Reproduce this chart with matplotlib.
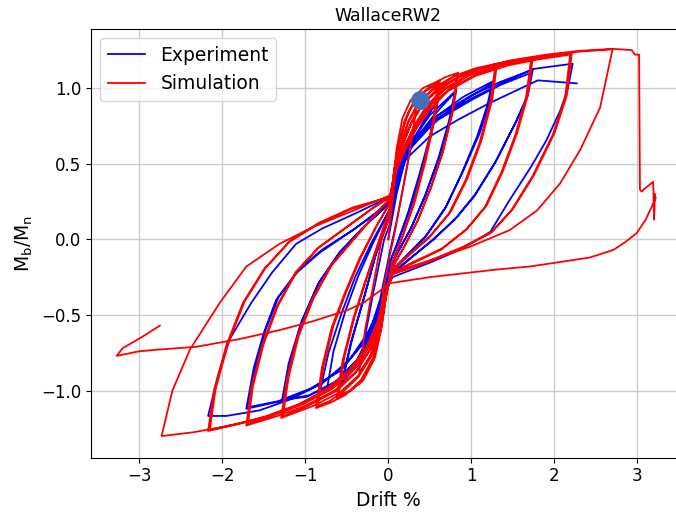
import matplotlib
matplotlib.use("Agg")
import matplotlib.pyplot as plt

# --- experiment (blue) loops, (drift %, Mb/Mn) ---
exp_cyc_03 = [(0.0, 0.0), (0.1, 0.3), (0.2, 0.52), (0.3, 0.7), (0.2, 0.4), (0.1, 0.12), (0.02, -0.08),
              (-0.1, -0.4), (-0.2, -0.57), (-0.3, -0.7), (-0.18, -0.35), (-0.05, 0.0), (0.02, 0.1)]
exp_cyc_06 = [(0.1, 0.35), (0.25, 0.6), (0.45, 0.8), (0.6, 0.92), (0.52, 0.7), (0.4, 0.45), (0.25, 0.18),
              (0.1, -0.04), (0.02, -0.15), (-0.06, -0.4), (-0.18, -0.65), (-0.35, -0.82), (-0.55, -0.92),
              (-0.45, -0.68), (-0.3, -0.4), (-0.15, -0.1), (0.02, 0.16),
              (0.12, 0.42), (0.3, 0.66), (0.45, 0.8), (0.58, 0.9), (0.5, 0.68), (0.38, 0.44), (0.24, 0.18),
              (0.1, -0.04), (0.02, -0.15), (-0.06, -0.42), (-0.2, -0.66), (-0.36, -0.82), (-0.54, -0.91),
              (-0.44, -0.67), (-0.3, -0.4), (-0.15, -0.1), (0.02, 0.16)]
exp_cyc_08 = [(0.1, 0.4), (0.25, 0.62), (0.5, 0.82), (0.82, 0.985), (0.75, 0.8), (0.62, 0.55), (0.45, 0.3),
              (0.28, 0.08), (0.12, -0.08), (0.03, -0.17), (-0.05, -0.35), (-0.15, -0.58), (-0.32, -0.8),
              (-0.55, -0.93), (-0.82, -1.0), (-0.72, -0.75), (-0.57, -0.5), (-0.4, -0.25), (-0.2, -0.02),
              (0.02, 0.2),
              (0.12, 0.45), (0.3, 0.64), (0.55, 0.82), (0.8, 0.97), (0.73, 0.78), (0.6, 0.53), (0.44, 0.28),
              (0.27, 0.07), (0.12, -0.08), (0.03, -0.18), (-0.06, -0.36), (-0.18, -0.6), (-0.35, -0.82),
              (-0.55, -0.94), (-0.74, -0.995), (-0.66, -0.74), (-0.52, -0.48), (-0.36, -0.24), (-0.18, -0.02),
              (0.02, 0.2)]
exp_cyc_13 = [(0.1, 0.45), (0.25, 0.6), (0.55, 0.8), (0.9, 0.94), (1.28, 1.05), (1.22, 0.9), (1.1, 0.7),
              (0.9, 0.45), (0.7, 0.22), (0.45, 0.02), (0.2, -0.12), (0.05, -0.2), (-0.04, -0.35),
              (-0.15, -0.55), (-0.35, -0.78), (-0.6, -0.93), (-0.95, -1.03), (-1.28, -1.065), (-1.2, -0.82),
              (-1.05, -0.55), (-0.85, -0.3), (-0.6, -0.1), (-0.3, 0.08), (0.02, 0.24),
              (0.12, 0.48), (0.3, 0.62), (0.6, 0.8), (0.95, 0.93), (1.25, 1.03), (1.19, 0.88), (1.07, 0.68),
              (0.88, 0.43), (0.68, 0.2), (0.44, 0.01), (0.2, -0.12), (0.05, -0.21), (-0.04, -0.36),
              (-0.16, -0.56), (-0.38, -0.8), (-0.65, -0.95), (-0.98, -1.04), (-1.26, -1.06), (-1.18, -0.8),
              (-1.03, -0.53), (-0.83, -0.28), (-0.58, -0.08), (-0.28, 0.09), (0.02, 0.24)]
exp_cyc_17 = [(0.12, 0.5), (0.3, 0.66), (0.6, 0.82), (1.0, 0.95), (1.35, 1.04), (1.74, 1.12), (1.68, 0.95),
              (1.56, 0.8), (1.3, 0.52), (1.05, 0.3), (0.83, 0.15), (0.55, 0.0), (0.25, -0.13), (0.05, -0.22),
              (-0.03, -0.35), (-0.12, -0.5), (-0.3, -0.68), (-0.55, -0.85), (-0.9, -0.98), (-1.3, -1.07),
              (-1.71, -1.12), (-1.62, -0.85), (-1.5, -0.62), (-1.35, -0.4), (-1.1, -0.22), (-0.83, -0.09),
              (-0.43, 0.06), (-0.15, 0.17), (0.02, 0.26),
              (0.12, 0.5), (0.3, 0.64), (0.6, 0.79), (1.0, 0.92), (1.35, 1.02), (1.72, 1.1), (1.66, 0.93),
              (1.54, 0.78), (1.28, 0.5), (1.03, 0.28), (0.8, 0.13), (0.52, -0.01), (0.24, -0.14), (0.05, -0.23),
              (-0.03, -0.36), (-0.13, -0.52), (-0.32, -0.7), (-0.58, -0.87), (-0.95, -0.99), (-1.33, -1.07),
              (-1.69, -1.11), (-1.6, -0.84), (-1.48, -0.6), (-1.32, -0.38), (-1.08, -0.2), (-0.8, -0.07),
              (-0.4, 0.07), (-0.14, 0.18), (0.02, 0.26)]
exp_cyc_22 = [(0.12, 0.5), (0.3, 0.65), (0.6, 0.8), (1.0, 0.93), (1.4, 1.04), (1.74, 1.125), (2.22, 1.16),
              (2.16, 0.99), (2.07, 0.85), (1.9, 0.65), (1.72, 0.48), (1.45, 0.25), (1.23, 0.05), (0.9, -0.06),
              (0.52, -0.15), (0.05, -0.25), (-0.02, -0.33), (-0.1, -0.45), (-0.25, -0.62), (-0.46, -0.79),
              (-0.79, -0.95), (-1.19, -1.06), (-1.55, -1.13), (-1.95, -1.167), (-2.17, -1.167), (-2.05, -0.9),
              (-1.91, -0.66), (-1.65, -0.42), (-1.4, -0.22), (-1.11, -0.03), (-0.8, 0.07), (-0.4, 0.17),
              (0.02, 0.28)]
exp_final = [(0.1, 0.45), (0.25, 0.55), (0.5, 0.68), (0.84, 0.79), (1.22, 0.9), (1.8, 1.05), (2.27, 1.03)]

# --- simulation (red) loops ---
sim_cyc_03 = [(0.0, 0.0), (0.05, 0.25), (0.1, 0.5), (0.17, 0.72), (0.25, 0.85), (0.35, 0.92), (0.28, 0.65),
              (0.18, 0.35), (0.08, 0.05), (0.02, -0.1), (-0.05, -0.3), (-0.12, -0.58), (-0.22, -0.78),
              (-0.35, -0.88), (-0.28, -0.6), (-0.18, -0.3), (-0.08, 0.0), (0.02, 0.15)]
sim_cyc_06 = [(0.05, 0.35), (0.1, 0.6), (0.17, 0.8), (0.27, 0.92), (0.42, 1.0), (0.62, 1.05), (0.56, 0.8),
              (0.45, 0.52), (0.32, 0.25), (0.18, 0.03), (0.05, -0.15), (-0.02, -0.35), (-0.08, -0.58),
              (-0.16, -0.78), (-0.3, -0.93), (-0.45, -1.0), (-0.62, -1.05), (-0.55, -0.8), (-0.42, -0.52),
              (-0.28, -0.28), (-0.12, -0.02), (0.02, 0.2),
              (0.06, 0.4), (0.12, 0.6), (0.2, 0.78), (0.3, 0.9), (0.45, 0.98), (0.6, 1.03), (0.54, 0.78),
              (0.43, 0.5), (0.3, 0.23), (0.17, 0.02), (0.05, -0.16), (-0.02, -0.36), (-0.09, -0.6),
              (-0.18, -0.8), (-0.32, -0.94), (-0.46, -1.0), (-0.6, -1.03), (-0.53, -0.78), (-0.4, -0.5),
              (-0.26, -0.26), (-0.1, 0.0), (0.02, 0.21)]
sim_cyc_08 = [(0.06, 0.42), (0.12, 0.62), (0.2, 0.79), (0.32, 0.92), (0.5, 1.01), (0.68, 1.07), (0.84, 1.1),
              (0.78, 0.85), (0.66, 0.58), (0.52, 0.35), (0.36, 0.13), (0.2, -0.04), (0.05, -0.18),
              (-0.02, -0.35), (-0.09, -0.58), (-0.18, -0.78), (-0.33, -0.93), (-0.52, -1.03), (-0.7, -1.08),
              (-0.87, -1.115), (-0.8, -0.85), (-0.68, -0.58), (-0.52, -0.35), (-0.35, -0.13), (-0.15, 0.08),
              (0.02, 0.24),
              (0.07, 0.42), (0.14, 0.6), (0.24, 0.77), (0.36, 0.89), (0.52, 0.98), (0.68, 1.04), (0.83, 1.09),
              (0.77, 0.84), (0.65, 0.57), (0.51, 0.34), (0.35, 0.12), (0.19, -0.05), (0.05, -0.19),
              (-0.02, -0.36), (-0.1, -0.58), (-0.2, -0.77), (-0.36, -0.91), (-0.55, -1.01), (-0.71, -1.07),
              (-0.85, -1.1), (-0.78, -0.84), (-0.66, -0.57), (-0.5, -0.34), (-0.33, -0.12), (-0.14, 0.09),
              (0.02, 0.24)]
sim_cyc_13 = [(0.07, 0.44), (0.14, 0.62), (0.24, 0.78), (0.36, 0.9), (0.55, 1.0), (0.8, 1.08), (1.05, 1.13),
              (1.31, 1.16), (1.25, 0.92), (1.12, 0.65), (0.95, 0.4), (0.75, 0.18), (0.5, 0.02), (0.25, -0.1),
              (0.05, -0.2), (-0.03, -0.35), (-0.1, -0.56), (-0.2, -0.75), (-0.36, -0.9), (-0.58, -1.01),
              (-0.9, -1.1), (-1.29, -1.18), (-1.22, -0.92), (-1.1, -0.65), (-0.92, -0.4), (-0.7, -0.18),
              (-0.45, -0.02), (-0.2, 0.14), (0.02, 0.27),
              (0.08, 0.44), (0.16, 0.6), (0.27, 0.76), (0.4, 0.88), (0.58, 0.98), (0.85, 1.07), (1.08, 1.12),
              (1.29, 1.15), (1.23, 0.91), (1.1, 0.64), (0.93, 0.39), (0.73, 0.17), (0.49, 0.01), (0.24, -0.11),
              (0.05, -0.21), (-0.03, -0.36), (-0.11, -0.55), (-0.22, -0.73), (-0.39, -0.88), (-0.62, -1.0),
              (-0.93, -1.09), (-1.27, -1.17), (-1.2, -0.91), (-1.08, -0.64), (-0.9, -0.39), (-0.68, -0.17),
              (-0.43, -0.01), (-0.18, 0.15), (0.02, 0.27)]
sim_cyc_17 = [(0.08, 0.45), (0.17, 0.62), (0.28, 0.77), (0.42, 0.9), (0.6, 1.0), (0.9, 1.09), (1.3, 1.16),
              (1.74, 1.2), (1.68, 0.95), (1.55, 0.7), (1.38, 0.45), (1.18, 0.22), (0.95, 0.07), (0.65, -0.06),
              (0.3, -0.15), (0.05, -0.22), (-0.03, -0.36), (-0.11, -0.55), (-0.22, -0.73), (-0.4, -0.88),
              (-0.65, -1.0), (-1.0, -1.1), (-1.35, -1.17), (-1.71, -1.23), (-1.65, -0.98), (-1.52, -0.7),
              (-1.35, -0.45), (-1.12, -0.22), (-0.85, -0.06), (-0.5, 0.08), (-0.2, 0.2), (0.02, 0.28),
              (0.09, 0.45), (0.19, 0.6), (0.31, 0.75), (0.46, 0.88), (0.65, 0.99), (0.95, 1.08), (1.35, 1.15),
              (1.72, 1.19), (1.66, 0.94), (1.53, 0.69), (1.36, 0.44), (1.16, 0.21), (0.93, 0.06),
              (0.63, -0.07), (0.29, -0.16), (0.05, -0.22), (-0.04, -0.36), (-0.12, -0.54), (-0.24, -0.72),
              (-0.43, -0.87), (-0.68, -0.99), (-1.03, -1.09), (-1.37, -1.16), (-1.69, -1.22), (-1.63, -0.97),
              (-1.5, -0.69), (-1.33, -0.44), (-1.1, -0.21), (-0.83, -0.05), (-0.48, 0.09), (-0.18, 0.21),
              (0.02, 0.28)]
sim_cyc_22 = [(0.09, 0.46), (0.2, 0.62), (0.33, 0.76), (0.48, 0.88), (0.68, 0.99), (1.0, 1.09), (1.4, 1.16),
              (1.8, 1.2), (2.21, 1.23), (2.15, 0.95), (2.0, 0.7), (1.75, 0.42), (1.5, 0.2), (1.25, 0.05),
              (0.9, -0.05), (0.5, -0.14), (0.05, -0.23), (-0.04, -0.36), (-0.12, -0.54), (-0.25, -0.72),
              (-0.44, -0.87), (-0.7, -0.99), (-1.05, -1.09), (-1.45, -1.17), (-1.8, -1.22), (-2.17, -1.266),
              (-2.1, -1.0), (-1.95, -0.7), (-1.75, -0.42), (-1.5, -0.2), (-1.2, -0.02), (-0.85, 0.1),
              (-0.45, 0.2), (0.02, 0.28),
              (0.1, 0.46), (0.22, 0.61), (0.36, 0.75), (0.52, 0.87), (0.72, 0.98), (1.05, 1.08), (1.45, 1.15),
              (1.82, 1.19), (2.19, 1.22), (2.13, 0.94), (1.98, 0.69), (1.73, 0.41), (1.48, 0.19), (1.23, 0.04),
              (0.88, -0.06), (0.48, -0.15), (0.05, -0.23), (-0.04, -0.37), (-0.13, -0.55), (-0.26, -0.72),
              (-0.46, -0.87), (-0.72, -0.99), (-1.08, -1.09), (-1.48, -1.17), (-1.82, -1.22), (-2.15, -1.26),
              (-2.08, -0.99), (-1.93, -0.69), (-1.73, -0.41), (-1.48, -0.19), (-1.18, -0.01), (-0.83, 0.11),
              (-0.43, 0.21), (0.02, 0.28)]
sim_cyc_27 = [(0.1, 0.47), (0.22, 0.63), (0.36, 0.77), (0.52, 0.89), (0.75, 1.0), (1.1, 1.1), (1.5, 1.17),
              (1.9, 1.21), (2.3, 1.24), (2.7, 1.255), (2.55, 0.87), (2.31, 0.59), (2.07, 0.37), (1.79, 0.19),
              (1.46, 0.06), (0.98, -0.05), (0.5, -0.14), (0.05, -0.22), (-0.04, -0.37), (-0.13, -0.55),
              (-0.27, -0.72), (-0.48, -0.87), (-0.75, -0.99), (-1.1, -1.1), (-1.5, -1.18), (-2.0, -1.24),
              (-2.35, -1.275), (-2.73, -1.30), (-2.6, -1.0), (-2.39, -0.73), (-2.03, -0.42), (-1.71, -0.18),
              (-1.31, -0.03), (-0.91, 0.08), (-0.42, 0.19), (0.02, 0.29)]
sim_final = [(0.1, 0.5), (0.2, 0.68), (0.32, 0.82), (0.48, 0.93), (0.7, 1.03), (1.05, 1.12), (1.45, 1.18),
             (1.9, 1.22), (2.3, 1.245), (2.7, 1.258), (2.93, 1.25), (2.97, 1.22), (3.02, 1.22),
             (3.03, 0.33), (3.05, 0.315), (3.1, 0.34), (3.19, 0.38), (3.2, 0.13), (3.21, 0.3), (3.22, 0.27),
             (3.15, 0.19), (3.1, 0.13), (2.99, 0.04), (2.85, -0.02), (2.71, -0.07), (2.43, -0.12),
             (2.07, -0.15), (1.7, -0.18), (1.3, -0.2), (0.98, -0.22), (0.5, -0.25), (0.02, -0.29),
             (-0.1, -0.34), (-0.3, -0.42), (-0.5, -0.47), (-0.9, -0.54), (-1.31, -0.6), (-1.8, -0.66),
             (-2.31, -0.71), (-2.8, -0.73), (-3.0, -0.74), (-3.27, -0.77), (-3.2, -0.72), (-2.95, -0.64),
             (-2.75, -0.57)]

exp_path = exp_cyc_03 + exp_cyc_06 + exp_cyc_08 + exp_cyc_13 + exp_cyc_17 + exp_cyc_22 + exp_final
sim_path = (sim_cyc_03 + sim_cyc_06 + sim_cyc_08 + sim_cyc_13 + sim_cyc_17 + sim_cyc_22
            + sim_cyc_27 + sim_final)

yield_point = (0.38, 0.92)

fig = plt.figure(figsize=(6.76, 5.14), dpi=100)
ax = fig.add_axes([0.1346, 0.1095, 0.8796, 0.834])

ax.plot([p[0] for p in exp_path], [p[1] for p in exp_path], color="blue", lw=1.3, label="Experiment")
ax.plot([p[0] for p in sim_path], [p[1] for p in sim_path], color="red", lw=1.3, label="Simulation")
ax.plot(yield_point[0], yield_point[1], "o", color="#4570b8", markersize=12.5, zorder=5)

ax.set_xlim(-3.58, 3.58)
ax.set_ylim(-1.443, 1.389)
ax.set_xticks([-3, -2, -1, 0, 1, 2, 3])
ax.set_yticks([-1.0, -0.5, 0.0, 0.5, 1.0])
ax.tick_params(labelsize=12)
ax.grid(True, color="#cccccc", lw=1)
ax.set_axisbelow(True)
ax.set_title("WallaceRW2", fontsize=12.5)
ax.set_xlabel("Drift %", fontsize=13.5)
ax.set_ylabel(r"$\mathrm{M_b/M_n}$", fontsize=13.5)
ax.legend(loc="upper left", fontsize=13.5)

fig.savefig("out.png", dpi=100)
